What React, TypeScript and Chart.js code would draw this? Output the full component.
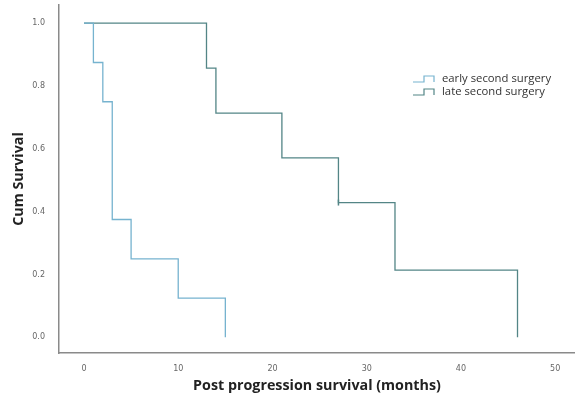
import React, { useEffect, useRef } from "react";
import { Chart, registerables } from "chart.js";

Chart.register(...registerables);

const seriesNames = ["early second surgery", "late second surgery"];
const earlyTimes = [0, 1, 2, 3, 5, 10, 15];
const earlySurv = [1.0, 0.875, 0.75, 0.375, 0.25, 0.125, 0.0];
const lateTimes = [0, 13, 14, 21, 27, 33, 46];
const lateSurv = [1.0, 0.857, 0.714, 0.571, 0.429, 0.214, 0.0];
const lateCensorTimes = [27];
const lateCensorSurv = [0.429];
const xTicks = [0, 10, 20, 30, 40, 50];
const yTicks = [0.0, 0.2, 0.4, 0.6, 0.8, 1.0];

const earlyColor = "#76b3cf";
const lateColor = "#538586";

function stepPoints(times: number[], surv: number[]) {
  return times.map((t, i) => ({ x: t, y: surv[i] }));
}

const legendPlugin = {
  id: "kmLegend",
  afterDraw(chart: any) {
    const ctx = chart.ctx;
    const items = [
      { label: seriesNames[0], color: earlyColor },
      { label: seriesNames[1], color: lateColor },
    ];
    ctx.save();
    items.forEach((it, i) => {
      const y = 79 + i * 13;
      const x0 = 413;
      ctx.strokeStyle = it.color;
      ctx.lineWidth = 1.2;
      ctx.beginPath();
      ctx.moveTo(x0, y + 3);
      ctx.lineTo(x0 + 11, y + 3);
      ctx.lineTo(x0 + 11, y - 3);
      ctx.lineTo(x0 + 21, y - 3);
      ctx.lineTo(x0 + 21, y + 3);
      ctx.stroke();
      ctx.fillStyle = "#333";
      ctx.font = "11.3px 'Open Sans'";
      ctx.textBaseline = "middle";
      ctx.textAlign = "left";
      ctx.fillText(it.label, x0 + 29, y);
    });
    ctx.restore();
  },
};

export default function App() {
  const ref = useRef<HTMLCanvasElement | null>(null);
  useEffect(() => {
    document.body.style.margin = "0";
    const chart = new Chart(ref.current as HTMLCanvasElement, {
      type: "scatter",
      data: {
        datasets: [
          {
            label: seriesNames[0],
            data: stepPoints(earlyTimes, earlySurv),
            showLine: true,
            stepped: "before",
            borderColor: earlyColor,
            borderWidth: 1.3,
            pointRadius: 0,
          },
          {
            label: seriesNames[1],
            data: stepPoints(lateTimes, lateSurv),
            showLine: true,
            stepped: "before",
            borderColor: lateColor,
            borderWidth: 1.3,
            pointRadius: 0,
          },
          {
            label: "censored",
            data: lateCensorTimes.map((t, i) => ({ x: t, y: lateCensorSurv[i] })),
            showLine: false,
            pointStyle: "line",
            rotation: 90,
            pointRadius: 3,
            borderColor: lateColor,
            borderWidth: 1.5,
          },
        ],
      },
      options: {
        animation: false,
        responsive: false,
        layout: { autoPadding: false, padding: { top: 5, right: 0, left: 0, bottom: 0 } },
        plugins: { legend: { display: false }, tooltip: { enabled: false } },
        scales: {
          x: {
            type: "linear",
            min: -2.65,
            max: 52.1,
            grid: { display: false, drawTicks: false },
            border: { display: true, color: "#8a8a8a", width: 1.5 },
            afterBuildTicks: (s: any) => {
              s.ticks = xTicks.map((v) => ({ value: v }));
            },
            afterFit: (s: any) => {
              s.height = 45;
              s.paddingLeft = 0;
              s.paddingRight = 0;
            },
            ticks: {
              color: "#666",
              font: { family: "'DejaVu Sans'", size: 8 },
              padding: 11,
              maxRotation: 0,
            },
            title: {
              display: true,
              text: "Post progression survival (months)",
              color: "#222",
              font: { family: "'Open Sans'", size: 14.3, weight: "bold" },
              padding: { top: 0, bottom: 3 },
            },
          },
          y: {
            type: "linear",
            min: -0.05,
            max: 1.058,
            grid: { display: false, drawTicks: false },
            border: { display: true, color: "#8a8a8a", width: 1.5 },
            afterBuildTicks: (s: any) => {
              s.ticks = yTicks.map((v) => ({ value: v }));
            },
            afterFit: (s: any) => {
              s.width = 59;
              s.paddingTop = 0;
              s.paddingBottom = 0;
            },
            ticks: {
              color: "#666",
              font: { family: "'DejaVu Sans'", size: 8 },
              padding: 14,
              callback: (v: any) => Number(v).toFixed(1),
            },
            title: {
              display: true,
              text: "Cum Survival",
              color: "#222",
              font: { family: "'Open Sans'", size: 14.3, weight: "bold" },
              padding: { top: 10, bottom: 0 },
            },
          },
        },
      },
      plugins: [legendPlugin],
    } as any);
    return () => chart.destroy();
  }, []);
  return <canvas ref={ref} width={575} height={398} style={{ display: "block" }} />;
}
